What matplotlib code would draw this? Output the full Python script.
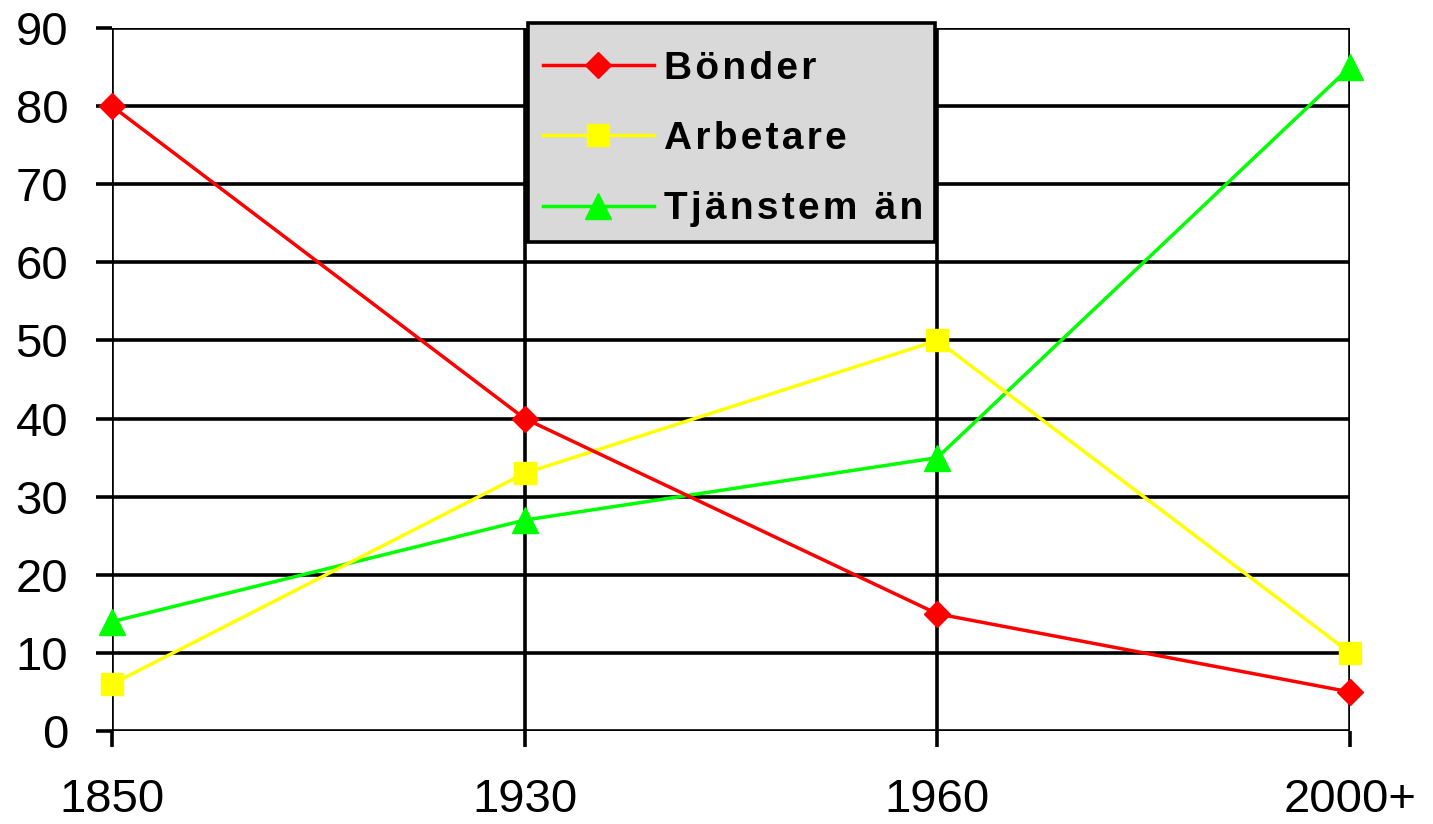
import numpy as np
import matplotlib.pyplot as plt
from matplotlib.patches import Rectangle

# data
years = ['1850', '1930', '1960', '2000+']
bonder = [80, 40, 15, 5]
arbetare = [6, 33, 50, 10]
tjanstemen = [14, 27, 35, 85]
labels = ['Bönder', 'Arbetare', 'Tjänstem än']

plt.rcParams['font.family'] = ['Liberation Sans', 'DejaVu Sans']


def spaced(s):
    # wide letter spacing like the original legend
    return '\u200a'.join(s)


fig = plt.figure(figsize=(14.33, 8.24), dpi=100)
W, H = 1433, 824
ax = fig.add_axes([112 / W, 1 - 731 / H, (1350 - 112) / W, (731 - 28) / H])

x = np.arange(len(years))
ax.plot(x, bonder, color='#ff0000', lw=2.5, marker='D', ms=13,
        label=spaced(labels[0]), clip_on=False, zorder=5)
ax.plot(x, arbetare, color='#ffff00', lw=2.5, marker='s', ms=16.5,
        label=spaced(labels[1]), clip_on=False, zorder=4)
ax.plot(x, tjanstemen, color='#00ff00', lw=2.5, marker='^', ms=19,
        label=spaced(labels[2]), clip_on=False, zorder=3)

ax.set_xlim(0, 3)
ax.set_ylim(0, 90)
ax.set_xticks(x)
ax.set_xticklabels(years)
ax.set_yticks(np.arange(0, 91, 10))
ax.grid(True, color='black', lw=2.6)
ax.set_axisbelow(True)
for s in ax.spines.values():
    s.set_visible(False)
ax.tick_params(axis='both', length=11.5, width=2.6, labelsize=34)
ax.tick_params(axis='y', pad=20)
ax.tick_params(axis='x', pad=22)

# legend box (grey, black border) drawn separately, entries on top
box = Rectangle((528 / W, 1 - 242 / H), (935 - 528) / W, (242 - 23) / H,
                transform=fig.transFigure, facecolor='#d9d9d9',
                edgecolor='black', lw=2.6, clip_on=False, zorder=9)
ax.add_patch(box)

leg = ax.legend(loc='center left', bbox_to_anchor=(543 / W, 1 - 139 / H),
                bbox_transform=fig.transFigure, frameon=False,
                prop={'weight': 'bold', 'size': 28}, handlelength=2.85,
                handletextpad=0.25, labelspacing=0.88,
                borderpad=0, borderaxespad=0)
leg.set_zorder(10)

fig.savefig('out.png', dpi=100)
